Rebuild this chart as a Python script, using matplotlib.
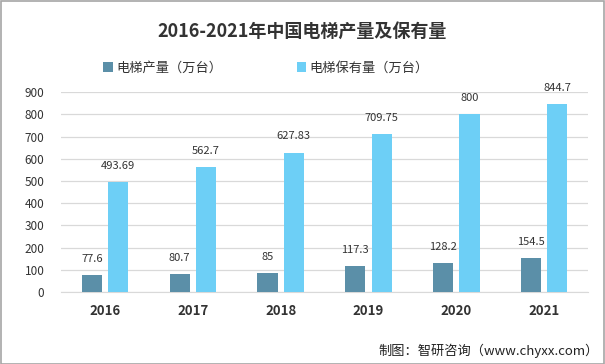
import matplotlib.pyplot as plt
import numpy as np

plt.rcParams['font.family'] = ['Noto Sans CJK SC', 'DejaVu Sans']

years = ["2016", "2017", "2018", "2019", "2020", "2021"]
output = [77.6, 80.7, 85, 117.3, 128.2, 154.5]
stock = [493.69, 562.7, 627.83, 709.75, 800, 844.7]
output_labels = ["77.6", "80.7", "85", "117.3", "128.2", "154.5"]
stock_labels = ["493.69", "562.7", "627.83", "709.75", "800", "844.7"]

dark = "#5B8FA8"
light = "#6DCFF6"

fig = plt.figure(figsize=(6.05, 3.64), dpi=100)
ax = fig.add_axes([0.101, 0.198, 0.871, 0.549])

x = np.arange(len(years))
w = 0.23

b1 = ax.bar(x - 0.15, output, w, color=dark, label="电梯产量（万台）", zorder=3)
b2 = ax.bar(x + 0.15, stock, w, color=light, label="电梯保有量（万台）", zorder=3)

# data labels
for rect, lab in zip(b1, output_labels):
    ax.annotate(lab, (rect.get_x() + rect.get_width() / 2, rect.get_height()),
                xytext=(0, 8), textcoords="offset points",
                ha="center", va="bottom", fontsize=8, color="#333333")
for rect, lab in zip(b2, stock_labels):
    ax.annotate(lab, (rect.get_x() + rect.get_width() / 2, rect.get_height()),
                xytext=(0, 8), textcoords="offset points",
                ha="center", va="bottom", fontsize=8, color="#333333")

ax.set_xlim(-0.5, 5.5)
ax.set_ylim(0, 900)
ax.set_yticks(range(0, 901, 100))
ax.set_xticks(x)
ax.set_xticklabels(years, fontweight="bold", fontsize=9.5, color="#333333")
ax.tick_params(axis="y", labelsize=8.5, colors="#333333", length=0, pad=12)
ax.tick_params(axis="x", length=0, pad=9)
ax.grid(axis="y", color="#D9D9D9", linewidth=0.9, zorder=0)
for s in ["top", "right", "left"]:
    ax.spines[s].set_visible(False)
ax.spines["bottom"].set_color("#D9D9D9")

fig.text(0.5, 0.915, "2016-2021年中国电梯产量及保有量", ha="center", va="center",
         fontsize=13, fontweight="bold", color="#333333")

fig.legend(loc="center", bbox_to_anchor=(0.44, 0.813), ncol=2, frameon=False,
           fontsize=9.5, handlelength=0.7, handleheight=0.7, columnspacing=5.6,
           handletextpad=0.3, labelcolor="#333333")

fig.text(0.99, 0.037, "制图：智研咨询（www.chyxx.com）", ha="right", va="center",
         fontsize=9.5, color="#222222")

fig.patches.append(plt.Rectangle((0.001, 0.001), 0.997, 0.996, transform=fig.transFigure,
                                 fill=False, edgecolor="#A6A6A6", linewidth=1.2))

fig.savefig("out.png", dpi=100)
